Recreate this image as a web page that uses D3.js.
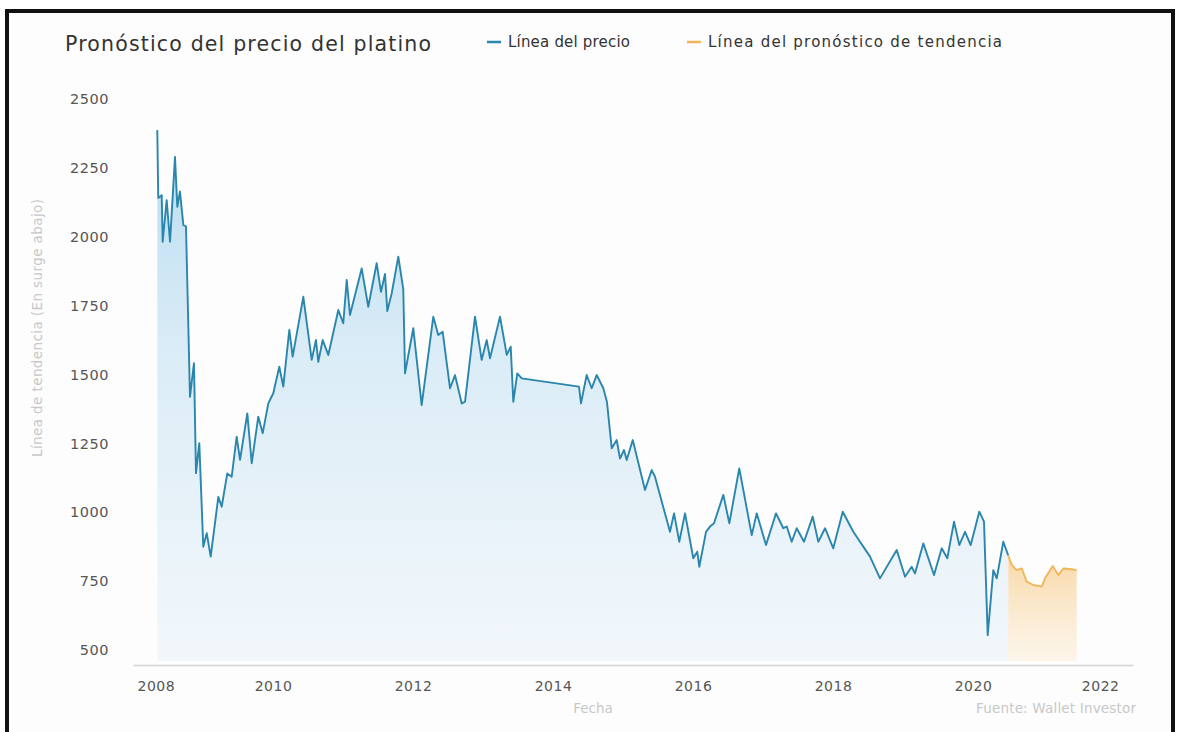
<!DOCTYPE html>
<html>
<head>
<meta charset="utf-8">
<script src="https://cdn.jsdelivr.net/npm/d3@7"></script>
<style>
  html, body { margin: 0; padding: 0; background: #ffffff; }
  svg { display: block; font-family: "DejaVu Sans", "Noto Sans", sans-serif; }
</style>
</head>
<body>
<svg id="chart" width="1181" height="732"></svg>
<script>
// Platinum price history (decimal year, USD) and trend forecast
const priceYears = [
  2008.347, 2008.361, 2008.410, 2008.424, 2008.481, 2008.529, 2008.600, 2008.633, 2008.671, 2008.719,
  2008.757, 2008.814, 2008.871, 2008.900, 2008.947, 2009.004, 2009.053, 2009.110, 2009.219, 2009.267,
  2009.347, 2009.410, 2009.481, 2009.529, 2009.633, 2009.696, 2009.790, 2009.853, 2009.933, 2010.004,
  2010.090, 2010.147, 2010.233, 2010.281, 2010.433, 2010.553, 2010.614, 2010.647, 2010.710, 2010.790,
  2010.933, 2011.004, 2011.053, 2011.100, 2011.267, 2011.361, 2011.481, 2011.543, 2011.600, 2011.633,
  2011.696, 2011.790, 2011.861, 2011.886, 2012.004, 2012.124, 2012.290, 2012.361, 2012.424, 2012.529,
  2012.600, 2012.696, 2012.743, 2012.886, 2012.981, 2013.053, 2013.100, 2013.243, 2013.339, 2013.396,
  2013.433, 2013.490, 2013.553, 2014.371, 2014.400, 2014.481, 2014.553, 2014.624, 2014.719, 2014.771,
  2014.839, 2014.910, 2014.957, 2015.014, 2015.053, 2015.139, 2015.314, 2015.410, 2015.457, 2015.671,
  2015.729, 2015.804, 2015.886, 2016.004, 2016.061, 2016.090, 2016.186, 2016.243, 2016.300, 2016.433,
  2016.519, 2016.661, 2016.839, 2016.910, 2017.043, 2017.186, 2017.290, 2017.339, 2017.410, 2017.481,
  2017.586, 2017.710, 2017.790, 2017.886, 2018.004, 2018.139, 2018.290, 2018.529, 2018.671, 2018.910,
  2019.029, 2019.124, 2019.171, 2019.290, 2019.443, 2019.553, 2019.633, 2019.729, 2019.804, 2019.886,
  2019.967, 2020.090, 2020.157, 2020.210, 2020.290, 2020.339, 2020.433, 2020.504
];
const priceValues = [
  2387, 2141, 2151, 1982, 2133, 1982, 2290, 2109, 2164, 2043,
  2037, 1419, 1541, 1142, 1251, 875, 924, 839, 1056, 1020,
  1141, 1129, 1274, 1190, 1359, 1178, 1347, 1287, 1395, 1432,
  1528, 1456, 1662, 1565, 1782, 1553, 1625, 1546, 1625, 1571,
  1734, 1686, 1843, 1716, 1885, 1746, 1904, 1800, 1865, 1730,
  1795, 1928, 1810, 1504, 1668, 1389, 1710, 1643, 1655, 1450,
  1498, 1395, 1401, 1710, 1553, 1625, 1559, 1710, 1571, 1601,
  1401, 1504, 1486, 1456, 1395, 1498, 1450, 1498, 1450, 1400,
  1232, 1262, 1195, 1226, 1190, 1262, 1081, 1153, 1129, 929,
  996, 893, 996, 833, 857, 802, 929, 948, 960, 1063,
  960, 1159, 917, 996, 881, 996, 942, 948, 893, 942,
  893, 984, 893, 942, 869, 1002, 929, 839, 760, 863,
  766, 802, 778, 887, 772, 869, 833, 966, 881, 929,
  881, 1002, 966, 554, 790, 760, 893, 843
];
const forecastYears = [
  2020.504, 2020.553, 2020.624, 2020.696, 2020.767, 2020.861, 2020.981, 2021.029, 2021.139, 2021.219,
  2021.290, 2021.410, 2021.481
];
const forecastValues = [
  843, 809, 790, 796, 748, 736, 730, 760, 805, 772,
  796, 793, 790
];
const yTicks = [500, 750, 1000, 1250, 1500, 1750, 2000, 2250, 2500];
const xTicks = [2008, 2010, 2012, 2014, 2016, 2018, 2020, 2022];

const titleText = "Pronóstico del precio del platino";
const legendLabels = ["Línea del precio", "Línea del pronóstico de tendencia"];
const yAxisTitle = "Línea de tendencia (En surge abajo)";
const xAxisTitle = "Fecha";
const sourceText = "Fuente: Wallet Investor";

const priceColor = "#2a86ad";
const forecastColor = "#f2b65a";

const svg = d3.select("#chart");
const W = 1181, H = 732;
const plot = { left: 133, right: 1133, top: 99, bottom: 665 };

const x = d3.scaleLinear().domain([2008, 2022.2857]).range([plot.left, plot.right]);
const y = d3.scaleLinear().domain([500, 2500]).range([650, plot.top]);
const baseline = plot.bottom - 4;

const priceData = priceYears.map((t, i) => ({ t, v: priceValues[i] }));
const forecastData = forecastYears.map((t, i) => ({ t, v: forecastValues[i] }));

// stretch a text element to a given width by spacing its glyphs
function fitWidth(sel, width) {
  sel.attr("textLength", width).attr("lengthAdjust", "spacing");
  return sel;
}

const defs = svg.append("defs");
const gBlue = defs.append("linearGradient").attr("id", "blueFill")
  .attr("gradientUnits", "userSpaceOnUse").attr("x1", 0).attr("x2", 0)
  .attr("y1", plot.top).attr("y2", baseline);
gBlue.append("stop").attr("offset", "0%").attr("stop-color", "#7fc0e6").attr("stop-opacity", 0.6);
gBlue.append("stop").attr("offset", "45%").attr("stop-color", "#b7dbf0").attr("stop-opacity", 0.5);
gBlue.append("stop").attr("offset", "100%").attr("stop-color", "#dcebf6").attr("stop-opacity", 0.35);

const gOrange = defs.append("linearGradient").attr("id", "orangeFill")
  .attr("gradientUnits", "userSpaceOnUse").attr("x1", 0).attr("x2", 0)
  .attr("y1", y(820)).attr("y2", baseline);
gOrange.append("stop").attr("offset", "0%").attr("stop-color", "#f7cb88").attr("stop-opacity", 0.7);
gOrange.append("stop").attr("offset", "100%").attr("stop-color", "#fbe8cc").attr("stop-opacity", 0.4);

// white page and black frame
svg.append("rect").attr("width", W).attr("height", H).attr("fill", "#fff");
svg.append("rect").attr("x", 7).attr("y", 11).attr("width", 1166).attr("height", 760)
  .attr("fill", "#fdfdfd").attr("stroke", "#111").attr("stroke-width", 4);

// areas
const area = d3.area().x(d => x(d.t)).y0(baseline).y1(d => y(d.v));
svg.append("path").datum(priceData).attr("d", area).attr("fill", "url(#blueFill)");
svg.append("path").datum(forecastData).attr("d", area).attr("fill", "url(#orangeFill)");

// lines
const line = d3.line().x(d => x(d.t)).y(d => y(d.v));
svg.append("path").datum(priceData).attr("d", line)
  .attr("fill", "none").attr("stroke", priceColor).attr("stroke-width", 1.9)
  .attr("stroke-linejoin", "round");
svg.append("path").datum(forecastData).attr("d", line)
  .attr("fill", "none").attr("stroke", forecastColor).attr("stroke-width", 1.9)
  .attr("stroke-linejoin", "round");

// x axis
const xAxis = svg.append("g").attr("transform", `translate(0,${plot.bottom})`)
  .call(d3.axisBottom(x).tickValues(xTicks).tickFormat(d3.format("d")).tickSize(0).tickPadding(16));
xAxis.select(".domain").attr("stroke", "#d4d4d4").attr("stroke-width", 1.5);
xAxis.selectAll("text").attr("font-size", 14).attr("fill", "#555")
  .attr("font-family", "'DejaVu Sans', sans-serif").attr("letter-spacing", "0.5px");
xAxis.selectAll(".tick").filter(d => d === xTicks[0]).select("text").attr("text-anchor", "start").attr("dx", 4);
xAxis.selectAll(".tick").filter(d => d === xTicks[xTicks.length - 1]).select("text").attr("text-anchor", "end").attr("dx", 6);

// y axis
const yAxis = svg.append("g").attr("transform", `translate(109,0)`)
  .call(d3.axisLeft(y).tickValues(yTicks).tickFormat(d3.format("d")).tickSize(0).tickPadding(0));
yAxis.select(".domain").remove();
yAxis.selectAll("text").attr("font-size", 14.5).attr("fill", "#555")
  .attr("font-family", "'DejaVu Sans', sans-serif").attr("letter-spacing", "0.5px");

// title and legend
fitWidth(svg.append("text").attr("x", 65).attr("y", 51).text(titleText)
  .attr("font-size", 20.5).attr("fill", "#333"), 366);

const legend = svg.append("g");
const legendX = [487, 687];
const legendWidths = [122, 294];
const legendColors = [priceColor, forecastColor];
legendLabels.forEach((lab, i) => {
  legend.append("line").attr("x1", legendX[i]).attr("x2", legendX[i] + 14)
    .attr("y1", 42).attr("y2", 42).attr("stroke", legendColors[i]).attr("stroke-width", 2.5);
  fitWidth(legend.append("text").attr("x", legendX[i] + 21).attr("y", 47).text(lab)
    .attr("font-size", 15).attr("fill", "#333"), legendWidths[i]);
});

// axis titles and source
fitWidth(svg.append("text").attr("transform", `translate(42,328) rotate(-90)`)
  .attr("text-anchor", "middle").text(yAxisTitle)
  .attr("font-size", 13.5).attr("fill", "#c8c8c8"), 258);

svg.append("text").attr("x", 593).attr("y", 713).attr("text-anchor", "middle").text(xAxisTitle)
  .attr("font-size", 13.5).attr("fill", "#c8c8c8");
fitWidth(svg.append("text").attr("x", 1136).attr("y", 713).attr("text-anchor", "end").text(sourceText)
  .attr("font-size", 13.5).attr("fill", "#c8c8c8"), 160);
</script>
</body>
</html>
